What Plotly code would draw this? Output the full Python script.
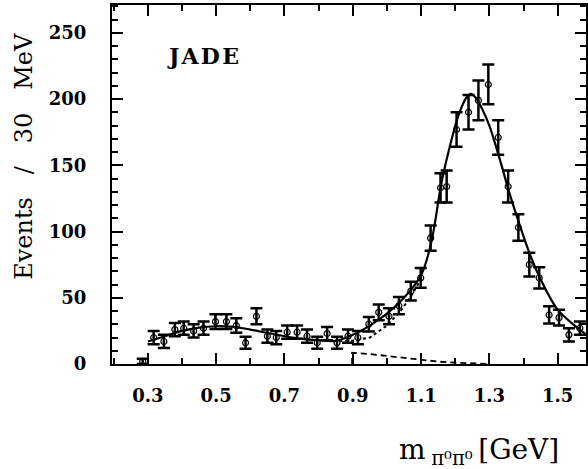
import plotly.graph_objects as go

# ---- data ----
mass = [0.285, 0.317, 0.347, 0.379, 0.405, 0.434, 0.463, 0.498, 0.530, 0.559,
        0.586, 0.618, 0.650, 0.676, 0.708, 0.737, 0.766, 0.796, 0.825, 0.854,
        0.886, 0.915, 0.947, 0.976, 1.006, 1.035, 1.070, 1.099, 1.128, 1.157,
        1.175, 1.204, 1.239, 1.268, 1.297, 1.326, 1.355, 1.385, 1.417, 1.446,
        1.475, 1.504, 1.533, 1.565]
events = [2, 20, 17, 26, 27, 25, 27, 32, 32, 29,
          16, 36, 21, 20, 24, 24, 21, 16, 23, 16,
          21, 20, 30, 39, 36, 44, 55, 65, 95, 133,
          134, 177, 190, 199, 211, 171, 134, 103, 75, 65,
          37, 35, 22, 27]
errors = [2, 5, 5, 5, 5, 5, 5, 5.5, 5.5, 5.5,
          4.5, 6, 5, 5, 5, 5, 5, 4.5, 5, 4.5,
          5, 5, 5.5, 6, 6, 6.5, 7, 7.5, 9.5, 11,
          12, 13, 13, 15, 15, 13, 12, 10, 9, 8,
          6.5, 6, 5, 5]

fit_x = [0.30, 0.35, 0.40, 0.45, 0.50, 0.55, 0.60, 0.65, 0.70, 0.75, 0.80, 0.85,
         0.90, 0.95, 1.00, 1.05, 1.10, 1.13, 1.16, 1.19, 1.21, 1.23, 1.245, 1.26,
         1.28, 1.30, 1.33, 1.36, 1.39, 1.42, 1.45, 1.50, 1.55, 1.59]
fit_y = [17, 21, 25, 27.5, 28.5, 28, 26, 23.5, 21, 19, 18, 17.5,
         22, 29, 38, 50, 67, 92, 137, 170, 188, 200, 204, 201,
         192, 180, 155, 128, 104, 82, 64, 41, 29, 21]

dot_x = [0.86, 0.90, 0.95, 1.00, 1.04, 1.07, 1.10]
dot_y = [17.4, 17.5, 20, 29, 40, 51, 64]

dash_x = [0.898, 0.898, 0.95, 1.00, 1.05, 1.10, 1.15, 1.20, 1.25, 1.30]
dash_y = [0, 8.5, 7.5, 6, 4.5, 3, 1.8, 1, 0.4, 0]

x_ticks = [0.3, 0.5, 0.7, 0.9, 1.1, 1.3, 1.5]
x_tick_text = ["0.3", "0.5", "0.7", "0.9", "1.1", "1.3", "1.5"]
y_ticks = [0, 50, 100, 150, 200, 250]

FONT = "DejaVu Serif"

fig = go.Figure()
fig.add_trace(go.Scatter(x=dash_x, y=dash_y, mode="lines",
                         line=dict(color="black", width=1.8, dash="6px,4px"),
                         hoverinfo="skip"))
fig.add_trace(go.Scatter(x=dot_x, y=dot_y, mode="lines",
                         line=dict(color="black", width=2, dash="dot"),
                         hoverinfo="skip"))
fig.add_trace(go.Scatter(x=fit_x, y=fit_y, mode="lines", line_shape="spline",
                         line=dict(color="black", width=2.2), hoverinfo="skip"))
fig.add_trace(go.Scatter(x=mass, y=events, mode="markers",
                         marker=dict(symbol="circle-open", size=6, color="black",
                                     line=dict(width=1.2, color="black")),
                         error_y=dict(type="data", array=errors, color="black",
                                      thickness=2.5, width=6)))

fig.update_layout(
    width=588, height=469,
    margin=dict(l=112, r=0, t=5, b=105),
    paper_bgcolor="white", plot_bgcolor="white",
    showlegend=False,
    font=dict(family=FONT, color="black"),
)
fig.update_xaxes(range=[0.195, 1.583], showgrid=False, zeroline=False,
                 showline=True, linecolor="black", linewidth=2, mirror="ticks",
                 ticks="inside", ticklen=11, tickwidth=2, tickcolor="black",
                 tickvals=x_ticks, ticktext=x_tick_text,
                 tickfont=dict(family=FONT, size=18, color="black", weight="bold"),
                 ticklabelstandoff=14,
                 minor=dict(ticks="inside", ticklen=6, tickwidth=2,
                            tickcolor="black", tick0=0.3, dtick=0.1, showgrid=False))
fig.update_yaxes(range=[0, 271], showgrid=False, zeroline=False,
                 showline=True, linecolor="black", linewidth=2, mirror="ticks",
                 ticks="inside", ticklen=11, tickwidth=2, tickcolor="black",
                 tickvals=y_ticks,
                 tickfont=dict(family=FONT, size=18, color="black", weight="bold"),
                 ticklabelstandoff=20,
                 minor=dict(ticks="inside", ticklen=6, tickwidth=2,
                            tickcolor="black", tick0=0, dtick=10, showgrid=False))

nb = "\u00a0"
sp = nb * 3
fig.add_annotation(x=-0.185, y=0.578, xref="paper", yref="paper",
                   xanchor="center", yanchor="middle",
                   text=f"Events{sp}/{sp}30{sp}MeV", textangle=-90,
                   showarrow=False, font=dict(family=FONT, size=24, color="black"))
fig.add_annotation(x=0.947, y=-0.243, xref="paper", yref="paper",
                   xanchor="right", yanchor="middle",
                   text="m\u2009<sub>\u03c0\u2070\u03c0\u2070</sub>\u2009[GeV]",
                   showarrow=False,
                   font=dict(family=FONT, size=28, color="black"))
fig.add_annotation(x=0.193, y=0.858, xref="paper", yref="paper",
                   xanchor="center", yanchor="middle",
                   text="J\u200aA\u200aD\u200aE", showarrow=False,
                   font=dict(family=FONT, size=22, color="black", weight="bold"))

fig.write_html("out.html")
